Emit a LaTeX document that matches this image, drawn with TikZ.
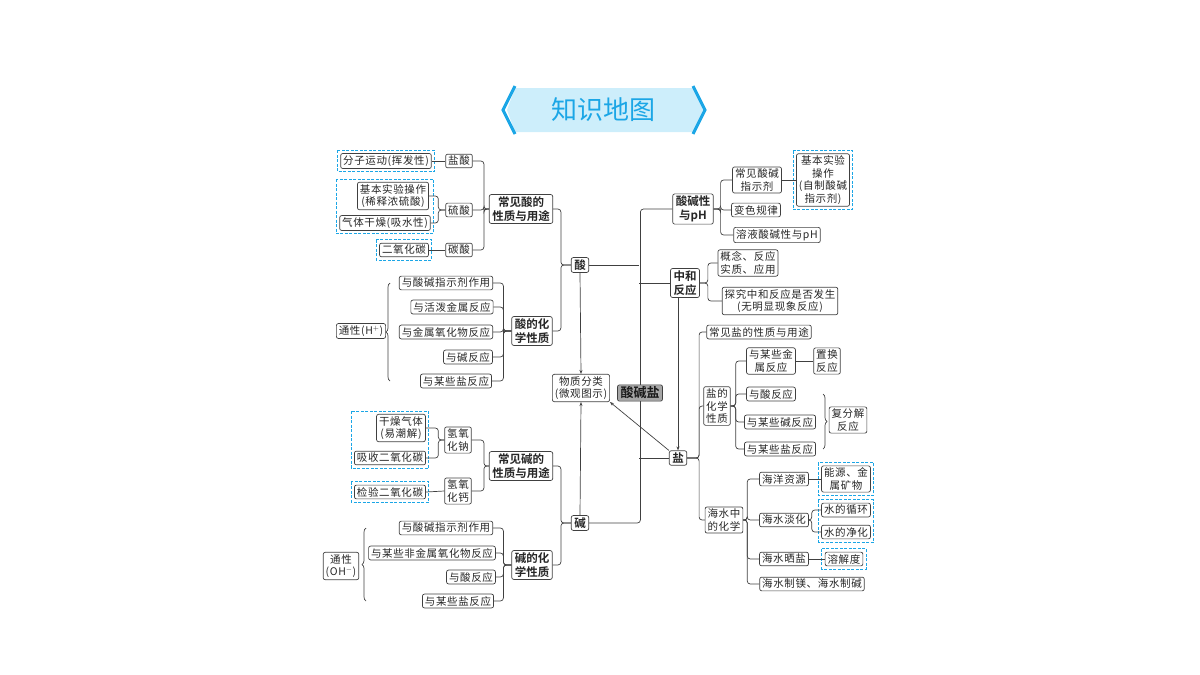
\documentclass[tikz,border=0pt]{standalone}
\usepackage{fontspec}
\setmainfont{Noto Sans CJK SC}[BoldFont={Noto Sans CJK SC Bold}]
\usetikzlibrary{fit,decorations.pathreplacing,arrows.meta}
\definecolor{ln}{HTML}{404040}
\definecolor{sky}{HTML}{1BA6E6}
\definecolor{skyf}{HTML}{CDEEFB}
\begin{document}
\begin{tikzpicture}[x=1pt,y=-1pt,line width=0.7pt,
  box/.style={draw=ln,line width=0.7pt,rounded corners=2pt,align=center,
    font=\fontsize{10.5}{12.5}\selectfont\addfontfeature{LetterSpace=6},text=black!85,inner xsep=2.5pt,inner ysep=2pt},
  bb/.style={box,font=\fontsize{11.5}{14}\selectfont\bfseries,inner xsep=3pt},
  dbox/.style={inner sep=2.5pt,append after command={
      \pgfextra{\draw[sky,line width=1pt,dash pattern=on 3pt off 1.5pt]
      (\tikzlastnode.north west) rectangle (\tikzlastnode.south east);}}},
  rc/.style={draw=ln,line width=0.7pt,rounded corners=3pt},
  ln/.style={draw=ln,line width=0.7pt},
  arr/.style={draw=ln,line width=0.7pt,-{Stealth[length=4pt,width=3pt]}},
  br/.style={draw=ln,line width=0.7pt,decorate,decoration={brace,amplitude=4pt}}]
\useasboundingbox (0,0) rectangle (1200,675);
% title
\fill[skyf] (515,88) -- (695,88) -- (703,110) -- (695,132) -- (515,132) -- (507,110) -- cycle;
\draw[sky,line width=3pt] (515,86) -- (503,110) -- (515,134);
\draw[sky,line width=3pt] (693,86) -- (705,110) -- (693,134);
\node[text=sky,font=\fontsize{26}{30}\selectfont] (title) at (603,110) {知识地图};
% left acid
\node[box] (fz) at (386,161) {分子运动(挥发性)};
\node[box] (yansuan) at (459,161) {盐酸};
\node[box] (jb) at (393,196) {基本实验操作\\(稀释浓硫酸)};
\node[box] (qt) at (385,223) {气体干燥(吸水性)};
\node[box] (liusuan) at (459,210) {硫酸};
\node[box] (eyht) at (404,250) {二氧化碳};
\node[box] (tansuan) at (459,250) {碳酸};
\node[bb] (csd) at (521,209) {常见酸的\\性质与用途};
\node[bb] (suan) at (580,265) {酸};
\node[bb] (shx) at (532,331) {酸的化\\学性质};
\node[box] (s1) at (446,283) {与酸碱指示剂作用};
\node[box] (s2) at (452,307) {与活泼金属反应};
\node[box] (s3) at (446,332) {与金属氧化物反应};
\node[box] (s4) at (468,357) {与碱反应};
\node[box] (s5) at (456,381) {与某些盐反应};
\node[box] (tx1) at (361,331) {通性(H$^{+}$)};
\node[dbox,fit=(fz)] (d1) {};
\node[dbox,fit=(jb)(qt)] (d2) {};
\node[dbox,fit=(eyht)] (d3) {};
\draw[ln] (fz.east) -- (yansuan.west);
\draw[ln] (eyht.east) -- (tansuan.west);
\foreach \c in {jb,qt} \draw[rc] (liusuan.west) -- ++(-7,0) |- (\c.east);
\foreach \c in {yansuan,liusuan,tansuan} \draw[rc] (csd.west) -- ++(-5,0) |- (\c.east);
\foreach \c in {csd,shx} \draw[rc] (suan.west) -- ++(-10,0) |- (\c.east);
\foreach \c in {s1,s2,s3,s4,s5} \draw[rc] (shx.west) -- ++(-8,0) |- (\c.east);
\draw[br] (390,381) -- (390,283);
% left base
\node[box] (gz) at (401,428) {干燥气体\\(易潮解)};
\node[box] (xs) at (390,458) {吸收二氧化碳};
\node[box] (qyhn) at (458,440) {氢氧\\化钠};
\node[box] (jy) at (390,492) {检验二氧化碳};
\node[box] (qyhg) at (458,491) {氢氧\\化钙};
\node[bb] (cjj) at (521,466) {常见碱的\\性质与用途};
\node[bb] (jian) at (580,523) {碱};
\node[bb] (jhx) at (532,565) {碱的化\\学性质};
\node[box] (j1) at (446,528) {与酸碱指示剂作用};
\node[box] (j2) at (432,553) {与某些非金属氧化物反应};
\node[box] (j3) at (471,577) {与酸反应};
\node[box] (j4) at (458,601) {与某些盐反应};
\node[box] (tx2) at (341,566) {通性\\(OH$^{-}$)};
\node[dbox,fit=(gz)(xs)] (d4) {};
\node[dbox,fit=(jy)] (d5) {};
\foreach \c in {gz,xs} \draw[rc] (qyhn.west) -- ++(-6,0) |- (\c.east);
\draw[ln] (jy.east) -- (qyhg.west);
\foreach \c in {qyhn,qyhg} \draw[rc] (cjj.west) -- ++(-5,0) |- (\c.east);
\foreach \c in {cjj,jhx} \draw[rc] (jian.west) -- ++(-10,0) |- (\c.east);
\foreach \c in {j1,j2,j3,j4} \draw[rc] (jhx.west) -- ++(-8,0) |- (\c.east);
\draw[br] (366,601) -- (366,528);
% right
\node[bb] (phn) at (693,209) {酸碱性\\与pH};
\node[box] (zs) at (757,180) {常见酸碱\\指示剂};
\node[box] (bs) at (756,210) {变色规律};
\node[box] (ph) at (777,235) {溶液酸碱性与pH};
\node[box] (jbsy) at (823,180) {基本实验\\操作\\(自制酸碱\\指示剂)};
\node[dbox,fit=(jbsy)] (d6) {};
\node[bb] (zh) at (685,283) {中和\\反应};
\node[box] (gn) at (748,263) {概念、反应\\实质、应用};
\node[box] (tj) at (780,301) {探究中和反应是否发生\\(无明显现象反应)};
\node[bb] (yan) at (678,458) {盐};
\node[box] (csy) at (759,332) {常见盐的性质与用途};
\node[box] (yhx) at (717,406) {盐的\\化学\\性质};
\node[box] (jsfy) at (771,361) {与某些金\\属反应};
\node[box] (zhfy) at (827,361) {置换\\反应};
\node[box] (ysfy) at (771,394) {与酸反应};
\node[box] (jfy) at (780,422) {与某些碱反应};
\node[box] (yfy) at (780,449) {与某些盐反应};
\node[box] (ffj) at (848,420) {复分解\\反应};
\node[box] (hs) at (724,520) {海水中\\的化学};
\node[box] (hyzy) at (784,479) {海洋资源};
\node[box] (nyk) at (846,479) {能源、金\\属矿物};
\node[box] (hsdh) at (784,520) {海水淡化};
\node[box] (sxh) at (846,510) {水的循环};
\node[box] (sjh) at (846,532) {水的净化};
\node[box] (hssy) at (784,559) {海水晒盐};
\node[box] (rjd) at (844,559) {溶解度};
\node[box] (zm) at (812,584) {海水制镁、海水制碱};
\node[dbox,fit=(nyk)] (d7) {};
\node[dbox,fit=(sxh)(sjh)] (d8) {};
\node[dbox,fit=(rjd)] (d9) {};
\foreach \c in {zs,bs,ph} \draw[rc] (phn.east) -- ++(7,0) |- (\c.west);
\draw[ln] (zs.east) -- (jbsy.west);
\foreach \c in {gn,tj} \draw[rc] (zh.east) -- ++(8,0) |- (\c.west);
\foreach \c in {csy,yhx,hs} \draw[rc] (yan.east) -- ++(12,0) |- (\c.west);
\foreach \c in {jsfy,ysfy,jfy,yfy} \draw[rc] (yhx.east) -- ++(5,0) |- (\c.west);
\draw[ln] (jsfy.east) -- (zhfy.west);
\draw[br] (823,394) -- (823,449);
\foreach \c in {hyzy,hsdh,hssy,zm} \draw[rc] (hs.east) -- ++(4,0) |- (\c.west);
\draw[ln] (hyzy.east) -- (nyk.west);
\draw[ln] (hssy.east) -- (rjd.west);
\foreach \c in {sxh,sjh} \draw[rc] (hsdh.east) -- ++(3,0) |- (\c.west);
% center
\coordinate (busx) at (639,0);
\draw[rc] (phn.west) -- ++(-32,0) |- (jian.east);
\draw[ln] (suan.east) -- (suan.east -| busx);
\draw[ln] (zh.west) -- (zh.west -| busx);
\draw[ln] (yan.west) -- (yan.west -| busx);
\node[box] (wzfl) at (581,388) {物质分类\\(微观图示)};
\node[bb,fill=black!35,font=\fontsize{13}{15}\selectfont\bfseries,text=black!90] (sjy) at (640,393) {酸碱盐};
\draw[arr] (suan.south) -- (wzfl.north);
\draw[arr] (jian.north) -- (wzfl.south);
\draw[arr] (yan.north west) -- (wzfl.south east);
\draw[arr] (yan.north |- zh.south) -- (yan.north);
\end{tikzpicture}
\end{document}
